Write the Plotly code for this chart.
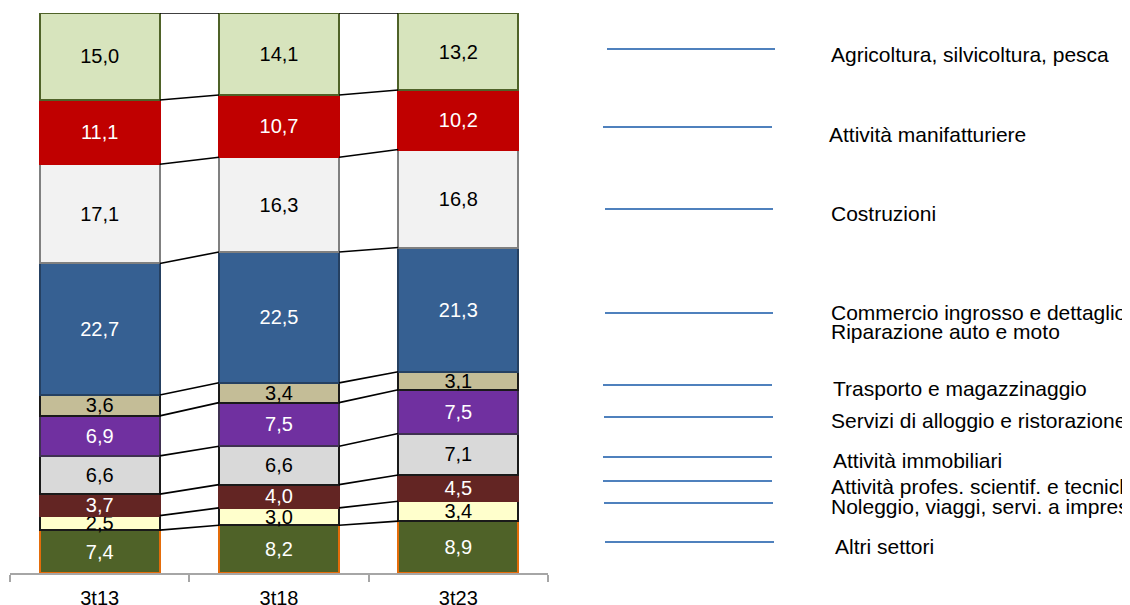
import plotly.graph_objects as go

# ---------------- data ----------------
periods = ["3t13", "3t18", "3t23"]

# series listed from bottom of stack to top
sectors = [
    "Altri settori",
    "Noleggio, viaggi, servi. a imprese",
    "Attività profes. scientif. e tecniche",
    "Attività immobiliari",
    "Servizi di alloggio e ristorazione",
    "Trasporto e magazzinaggio",
    "Commercio ingrosso e dettaglio<br>Riparazione auto e moto",
    "Costruzioni",
    "Attività manifatturiere",
    "Agricoltura, silvicoltura, pesca",
]

altri = [7.4, 8.2, 8.9]
noleggio = [2.5, 3.0, 3.4]
profes = [3.7, 4.0, 4.5]
immobiliari = [6.6, 6.6, 7.1]
alloggio = [6.9, 7.5, 7.5]
trasporto = [3.6, 3.4, 3.1]
commercio = [22.7, 22.5, 21.3]
costruzioni = [17.1, 16.3, 16.8]
manifatturiere = [11.1, 10.7, 10.2]
agricoltura = [15.0, 14.1, 13.2]

values = [altri, noleggio, profes, immobiliari, alloggio,
          trasporto, commercio, costruzioni, manifatturiere, agricoltura]

# ---------------- styles ----------------
fills = ["#4F6228", "#FFFFCC", "#632523", "#D9D9D9", "#7030A0",
         "#C4BD97", "#366092", "#F2F2F2", "#C00000", "#D7E4BD"]
borders = ["#E46C0A", "#1A1A1A", "#632523", "#1A1A1A", "#3F3151",
           "#1A1A1A", "#254061", "#808080", "#C00000", "#4F6228"]
txtcol = ["white", "black", "white", "black", "white",
          "black", "white", "black", "white", "black"]

FONT = "Liberation Sans, Arial, sans-serif"
FS = 20
W, H = 1130, 605
OFF = 8  # page body margin offset
PL, PT, PR, PB = 10, 13, 548, 573  # target plot area in page pixels
ML = PL - OFF
MT = PT - OFF
pw = PR - PL
ph = PB - PT
MR = W - ML - pw
MB = H - MT - ph
BARW = 0.67


def fmt(v):
    return f"{v:.1f}".replace(".", ",")


fig = go.Figure()

for name, vals, fc, bc, tc in zip(sectors, values, fills, borders, txtcol):
    fig.add_trace(go.Bar(
        x=periods, y=vals, name=name, width=BARW,
        marker=dict(color=fc, line=dict(color=bc, width=2)),
        text=[fmt(v) for v in vals], textposition="inside",
        insidetextanchor="middle", textangle=0,
        textfont=dict(family=FONT, size=FS, color=tc),
        showlegend=False, hoverinfo="skip",
    ))

# connector (series) lines between bars, computed from normalized cumulative data
totals = [sum(v[i] for v in values) for i in range(len(periods))]
cum = []
run = [0.0] * len(periods)
for vals in values:
    run = [run[i] + vals[i] for i in range(len(periods))]
    cum.append([run[i] / totals[i] * 100 for i in range(len(periods))])

lx, ly = [], []
for level in cum:
    for i in range(len(periods) - 1):
        lx += [i + BARW / 2, i + 1 - BARW / 2, None]
        ly += [level[i], level[i + 1], None]
fig.add_trace(go.Scatter(x=lx, y=ly, xaxis="x2", mode="lines",
                         line=dict(color="black", width=1.6),
                         showlegend=False, hoverinfo="skip"))


# ---------------- manual legend ----------------
def px(xp):
    return (xp - PL) / pw


def py(yp):
    return (PB - yp) / ph


legend_items = [
    # (line y, line x0, line x1, [(text, text x, text y)])
    (49, 607, 775, [("Agricoltura, silvicoltura, pesca", 829, 55)]),
    (127, 603, 772, [("Attività manifatturiere", 827, 134)]),
    (209, 605, 773, [("Costruzioni", 829, 214)]),
    (313, 605, 773, [("Commercio ingrosso e dettaglio", 829, 312),
                     ("Riparazione auto e moto", 829, 331)]),
    (385, 603, 772, [("Trasporto e magazzinaggio", 831, 388)]),
    (417, 604, 773, [("Servizi di alloggio e ristorazione", 829, 420)]),
    (457, 603, 772, [("Attività immobiliari", 831, 460)]),
    (481, 603, 772, [("Attività profes. scientif. e tecniche", 829, 486)]),
    (503, 604, 773, [("Noleggio, viaggi, servi. a imprese", 829, 506)]),
    (542, 605, 774, [("Altri settori", 833, 546)]),
]

shapes, annots = [], []
for ly_, x0, x1, texts in legend_items:
    shapes.append(dict(type="line", xref="paper", yref="paper",
                       x0=px(x0), x1=px(x1), y0=py(ly_), y1=py(ly_),
                       line=dict(color="#4F81BD", width=2)))
    for t, tx, ty in texts:
        annots.append(dict(text=t, xref="paper", yref="paper",
                           x=px(tx), y=py(ty), xanchor="left", yanchor="middle",
                           showarrow=False,
                           font=dict(family=FONT, size=21, color="black")))

fig.update_layout(
    width=W, height=H,
    margin=dict(l=ML, r=MR, t=MT, b=MB),
    barmode="stack", barnorm="percent",
    paper_bgcolor="white", plot_bgcolor="white",
    uniformtext=dict(minsize=FS, mode="show"),
    xaxis=dict(type="category", tickson="boundaries", ticks="outside",
               ticklen=7, tickwidth=2, tickcolor="#A6A6A6",
               showline=True, linecolor="#A6A6A6", linewidth=2,
               showgrid=False, zeroline=False, ticklabelstandoff=6,
               tickfont=dict(family=FONT, size=FS, color="black"),
               range=[-0.5, 2.5]),
    xaxis2=dict(overlaying="x", range=[-0.5, 2.5], visible=False),
    yaxis=dict(range=[0, 100], visible=False, showgrid=False),
    shapes=shapes, annotations=annots,
    font=dict(family=FONT),
)

fig.write_html("out.html")
